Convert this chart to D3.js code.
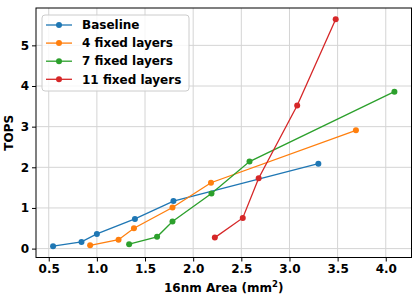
<!DOCTYPE html>
<html>
<head>
<meta charset="utf-8">
<script src="https://cdn.jsdelivr.net/npm/d3@7"></script>
<style>
  body { margin: 0; background: #fff; }
  svg text { font-family: "DejaVu Sans", sans-serif; font-weight: bold; }
</style>
</head>
<body>
<div id="chart"></div>
<script>
// values
var seriesNames = ['Baseline', '4 fixed layers', '7 fixed layers', '11 fixed layers'];
var seriesColors = ['#1f77b4', '#ff7f0e', '#2ca02c', '#d62728'];

var baselineArea = [0.545, 0.84, 1.0, 1.395, 1.795, 3.30];
var baselineTops = [0.06, 0.165, 0.36, 0.73, 1.17, 2.09];

var fixed4Area = [0.93, 1.225, 1.385, 1.785, 2.185, 3.69];
var fixed4Tops = [0.08, 0.22, 0.50, 1.01, 1.62, 2.91];

var fixed7Area = [1.335, 1.625, 1.785, 2.19, 2.585, 4.09];
var fixed7Tops = [0.11, 0.29, 0.665, 1.355, 2.14, 3.86];

var fixed11Area = [2.225, 2.515, 2.68, 3.08, 3.48];
var fixed11Tops = [0.27, 0.755, 1.73, 3.52, 5.64];

var xTicks = [0.5, 1.0, 1.5, 2.0, 2.5, 3.0, 3.5, 4.0];
var yTicks = [0, 1, 2, 3, 4, 5];

var W = 420, H = 298;
var margin = {top: 8, right: 8.5, bottom: 40.5, left: 36};

var series = [
  {area: baselineArea, tops: baselineTops},
  {area: fixed4Area, tops: fixed4Tops},
  {area: fixed7Area, tops: fixed7Tops},
  {area: fixed11Area, tops: fixed11Tops}
].map(function(s, i) {
  return {
    name: seriesNames[i],
    color: seriesColors[i],
    points: s.area.map(function(a, j) { return [a, s.tops[j]]; })
  };
});

// matplotlib style 5% padding around the data
function padded(ext) {
  var p = (ext[1] - ext[0]) * 0.05;
  return [ext[0] - p, ext[1] + p];
}
var allPts = d3.merge(series.map(function(s) { return s.points; }));

var x = d3.scaleLinear()
  .domain(padded(d3.extent(allPts, function(d) { return d[0]; })))
  .range([margin.left, W - margin.right]);
var y = d3.scaleLinear()
  .domain(padded(d3.extent(allPts, function(d) { return d[1]; })))
  .range([H - margin.bottom, margin.top]);

var svg = d3.select('#chart').append('svg')
  .attr('width', W)
  .attr('height', H);

// grid
svg.append('g').selectAll('line.vg')
  .data(xTicks).enter().append('line')
  .attr('x1', x).attr('x2', x)
  .attr('y1', margin.top).attr('y2', H - margin.bottom)
  .attr('stroke', '#d4d4d4').attr('stroke-width', 1);
svg.append('g').selectAll('line.hg')
  .data(yTicks).enter().append('line')
  .attr('y1', y).attr('y2', y)
  .attr('x1', margin.left).attr('x2', W - margin.right)
  .attr('stroke', '#d4d4d4').attr('stroke-width', 1);

// axes
var xAxis = d3.axisBottom(x).tickValues(xTicks).tickFormat(d3.format('.1f'))
  .tickSize(4).tickSizeOuter(0).tickPadding(3);
var yAxis = d3.axisLeft(y).tickValues(yTicks).tickFormat(d3.format('d'))
  .tickSize(4).tickSizeOuter(0).tickPadding(3);

var gx = svg.append('g')
  .attr('transform', 'translate(0,' + (H - margin.bottom) + ')')
  .call(xAxis);
var gy = svg.append('g')
  .attr('transform', 'translate(' + margin.left + ',0)')
  .call(yAxis);
[gx, gy].forEach(function(g) {
  g.select('.domain').remove();
  g.selectAll('text').attr('font-size', 12).attr('fill', '#000')
    .style('font-family', '"DejaVu Sans", sans-serif').style('font-weight', 'bold');
  g.selectAll('line').attr('stroke', '#000');
});

// series
var line = d3.line()
  .x(function(d) { return x(d[0]); })
  .y(function(d) { return y(d[1]); });

var sg = svg.append('g').selectAll('g.series')
  .data(series).enter().append('g');
sg.append('path')
  .attr('d', function(d) { return line(d.points); })
  .attr('fill', 'none')
  .attr('stroke', function(d) { return d.color; })
  .attr('stroke-width', 1.3);
sg.selectAll('circle')
  .data(function(d) { return d.points.map(function(p) { return {p: p, c: d.color}; }); })
  .enter().append('circle')
  .attr('cx', function(d) { return x(d.p[0]); })
  .attr('cy', function(d) { return y(d.p[1]); })
  .attr('r', 3)
  .attr('fill', function(d) { return d.c; });

// frame
svg.append('rect')
  .attr('x', margin.left).attr('y', margin.top)
  .attr('width', W - margin.left - margin.right)
  .attr('height', H - margin.top - margin.bottom)
  .attr('fill', 'none').attr('stroke', '#000').attr('stroke-width', 1);

// axis titles
svg.append('text')
  .attr('x', (margin.left + W - margin.right) / 2)
  .attr('y', 291.5)
  .attr('text-anchor', 'middle')
  .attr('font-size', 12)
  .html('16nm Area (mm<tspan dy="-5" font-size="8.5">2</tspan><tspan dy="5">)</tspan>');

svg.append('text')
  .attr('transform', 'translate(12.5,' + ((margin.top + H - margin.bottom) / 2) + ') rotate(-90)')
  .attr('text-anchor', 'middle')
  .attr('font-size', 12)
  .text('TOPS');

// legend
var lg = svg.append('g').attr('transform', 'translate(42,15)');
lg.append('rect')
  .attr('width', 147).attr('height', 76).attr('rx', 3)
  .attr('fill', '#fff').attr('fill-opacity', 0.8)
  .attr('stroke', '#cccccc');
var item = lg.selectAll('g.item')
  .data(series).enter().append('g')
  .attr('transform', function(d, i) { return 'translate(0,' + (10 + i * 18.1) + ')'; });
item.append('line')
  .attr('x1', 4).attr('x2', 30)
  .attr('stroke', function(d) { return d.color; })
  .attr('stroke-width', 1.3);
item.append('circle')
  .attr('cx', 17).attr('r', 3)
  .attr('fill', function(d) { return d.color; });
item.append('text')
  .attr('x', 40).attr('dy', '0.35em')
  .attr('font-size', 12)
  .text(function(d) { return d.name; });
</script>
</body>
</html>
